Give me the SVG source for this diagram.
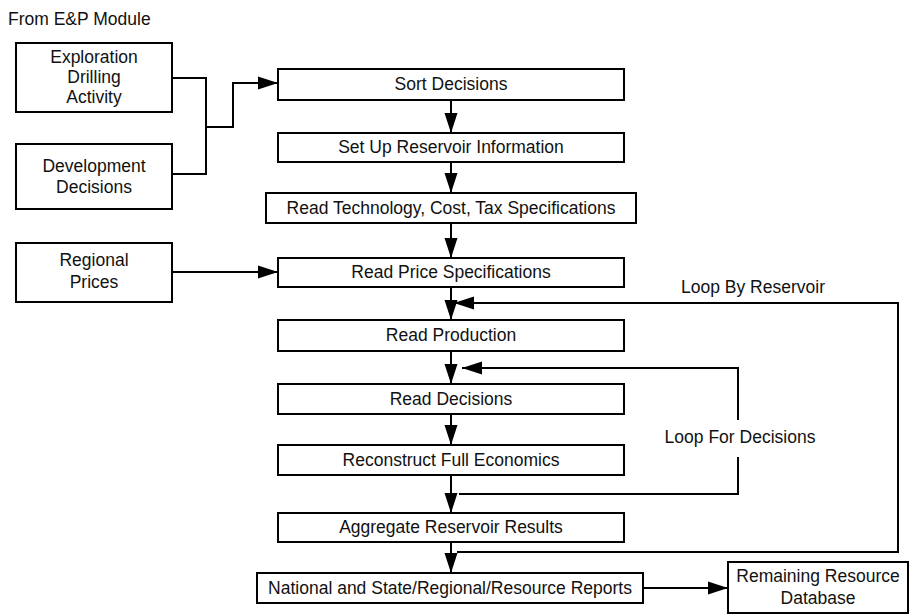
<svg xmlns="http://www.w3.org/2000/svg" width="920" height="614" viewBox="0 0 920 614">
<defs>
<marker id="ah" markerUnits="userSpaceOnUse" markerWidth="20" markerHeight="14" refX="20" refY="7" orient="auto">
<path d="M0,0.5 L20,7 L0,13.5 z" fill="#000"/>
</marker>
<style>
.box{fill:#fff;stroke:#000;stroke-width:2}
.t{font-family:"Liberation Sans",Arial,sans-serif;font-size:17.5px;fill:#111;text-anchor:middle}
.lbl{font-family:"Liberation Sans",Arial,sans-serif;font-size:17.5px;fill:#111}
.c{fill:none;stroke:#000;stroke-width:2}
.a{fill:none;stroke:#000;stroke-width:2;marker-end:url(#ah)}
</style>
</defs>
<rect width="920" height="614" fill="#fff"/>
<text class="lbl" x="8" y="25">From E&amp;P Module</text>

<g id="connectors">
<polyline class="c" points="172,78 206,78 206,174 170,174"/>
<polyline class="a" points="206,127 233,127 233,83 278,83"/>
<line class="a" x1="451" y1="100" x2="451" y2="133"/>
<line class="a" x1="451" y1="162" x2="451" y2="193"/>
<line class="a" x1="451" y1="223" x2="451" y2="258"/>
<line class="a" x1="172" y1="272" x2="278" y2="272"/>
<line class="a" x1="451" y1="287" x2="451" y2="320"/>
<line class="a" x1="451" y1="351" x2="451" y2="384"/>
<line class="a" x1="451" y1="414" x2="451" y2="445"/>
<line class="a" x1="451" y1="475" x2="451" y2="513"/>
<line class="a" x1="451" y1="542" x2="451" y2="573"/>
<line class="a" x1="643" y1="588" x2="728" y2="588"/>
<polyline class="a" points="457,552 898,552 898,303 454,303"/>
<polyline class="c" points="459,494 738,494 738,457"/>
<polyline class="a" points="738,420 738,368 462,368"/>
<text class="lbl" x="753" y="293" text-anchor="middle">Loop By Reservoir</text>
<text class="lbl" x="740" y="443" text-anchor="middle">Loop For Decisions</text>
</g>

<g id="exploration"><rect class="box" x="16" y="43" width="156" height="69"/>
<text class="t" x="94" y="63">Exploration</text><text class="t" x="94" y="83">Drilling</text><text class="t" x="94" y="103">Activity</text></g>
<g id="development"><rect class="box" x="16" y="144" width="156" height="65"/>
<text class="t" x="94" y="172">Development</text><text class="t" x="94" y="193">Decisions</text></g>
<g id="regional"><rect class="box" x="16" y="243" width="156" height="59"/>
<text class="t" x="94" y="266">Regional</text><text class="t" x="94" y="288">Prices</text></g>
<g id="sort"><rect class="box" x="278" y="69" width="346" height="31"/><text class="t" x="451" y="90">Sort Decisions</text></g>
<g id="setup"><rect class="box" x="278" y="133" width="346" height="29"/><text class="t" x="451" y="153">Set Up Reservoir Information</text></g>
<g id="readtech"><rect class="box" x="266" y="193" width="370" height="30"/><text class="t" x="451" y="214">Read Technology, Cost, Tax Specifications</text></g>
<g id="readprice"><rect class="box" x="278" y="258" width="346" height="29"/><text class="t" x="451" y="278">Read Price Specifications</text></g>
<g id="readprod"><rect class="box" x="278" y="320" width="346" height="31"/><text class="t" x="451" y="341">Read Production</text></g>
<g id="readdec"><rect class="box" x="278" y="384" width="346" height="30"/><text class="t" x="451" y="405">Read Decisions</text></g>
<g id="reconstruct"><rect class="box" x="278" y="445" width="346" height="30"/><text class="t" x="451" y="466">Reconstruct Full Economics</text></g>
<g id="aggregate"><rect class="box" x="278" y="513" width="346" height="29"/><text class="t" x="451" y="533">Aggregate Reservoir Results</text></g>
<g id="national"><rect class="box" x="257" y="573" width="386" height="30"/><text class="t" x="450" y="594">National and State/Regional/Resource Reports</text></g>
<g id="remaining"><rect class="box" x="728" y="562" width="180" height="51"/>
<text class="t" x="818" y="582">Remaining Resource</text><text class="t" x="818" y="604">Database</text></g>
</svg>
